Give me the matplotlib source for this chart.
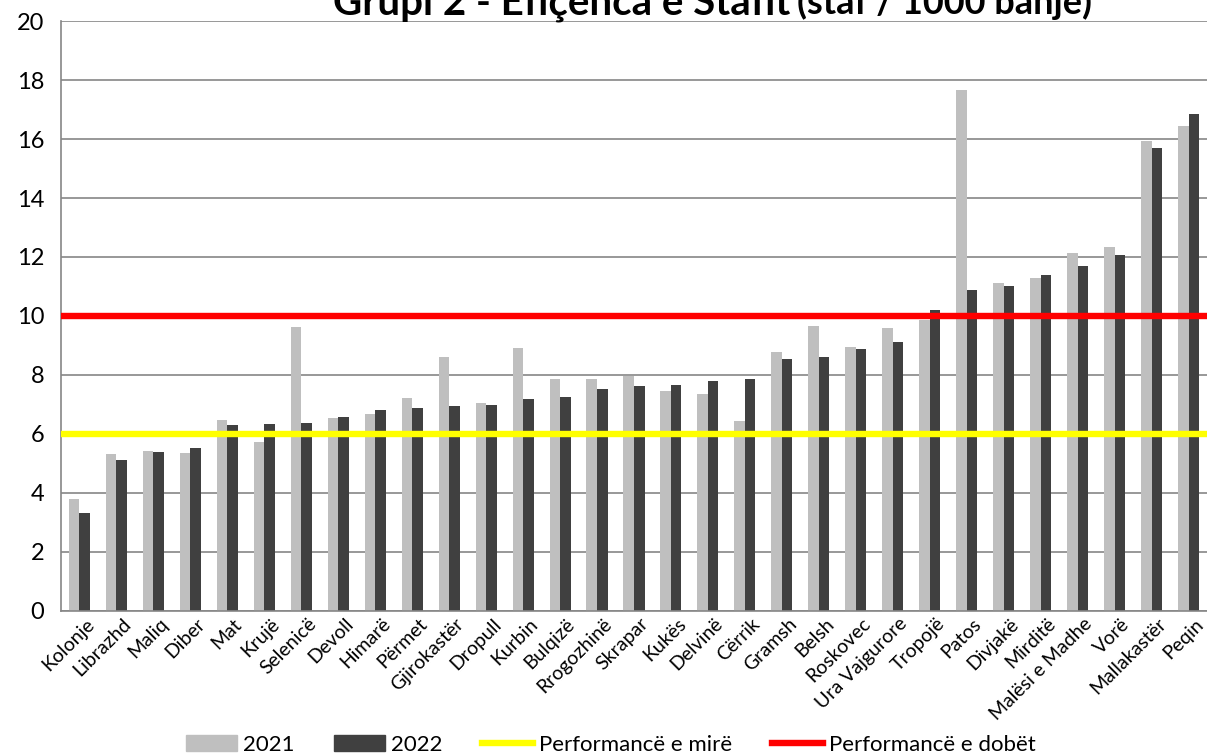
import numpy as np
import matplotlib
matplotlib.use('Agg')
import matplotlib.pyplot as plt
import matplotlib.transforms as mtransforms
from matplotlib.lines import Line2D
from matplotlib.patches import Patch

plt.rcParams['font.family'] = ['Lato', 'DejaVu Sans']

#%% data
bashkite = ['Kolonje', 'Librazhd', 'Maliq', 'Diber', 'Mat', 'Krujë', 'Selenicë',
            'Devoll', 'Himarë', 'Përmet', 'Gjirokastër', 'Dropull', 'Kurbin',
            'Bulqizë', 'Rrogozhinë', 'Skrapar', 'Kukës', 'Delvinë', 'Cërrik',
            'Gramsh', 'Belsh', 'Roskovec', 'Ura Vajgurore', 'Tropojë', 'Patos',
            'Divjakë', 'Mirditë', 'Malësi e Madhe', 'Vorë', 'Mallakastër', 'Peqin']
v2021 = [3.79, 5.31, 5.43, 5.35, 6.46, 5.72, 9.63, 6.54, 6.67, 7.22, 8.60,
         7.04, 8.90, 7.86, 7.86, 7.97, 7.46, 7.35, 6.45, 8.77, 9.65, 8.96,
         9.60, 9.85, 17.67, 11.12, 11.30, 12.12, 12.35, 15.92, 16.45]
v2022 = [3.31, 5.12, 5.40, 5.52, 6.29, 6.34, 6.37, 6.56, 6.80, 6.87, 6.96,
         6.97, 7.20, 7.26, 7.51, 7.62, 7.66, 7.80, 7.85, 8.53, 8.61, 8.88,
         9.11, 10.20, 10.87, 11.03, 11.40, 11.69, 12.06, 15.70, 16.84]
prag_mire = 6
prag_dobet = 10
yticks = np.arange(0, 21, 2)

#%% plot
fig = plt.figure(figsize=(12.07, 7.53), dpi=100)
ax = fig.add_axes([0.0505, 0.1886, 0.9495, 0.7835])

x = np.arange(len(bashkite))
w = 0.285
ax.bar(x - w/2, v2021, w, color='#BFBFBF', zorder=2)
ax.bar(x + w/2, v2022, w, color='#404040', zorder=2)
ax.axhline(prag_mire, color='#FFFF00', lw=4.6, zorder=3)
ax.axhline(prag_dobet, color='#FF0000', lw=4.6, zorder=3)

ax.set_xlim(-0.5, len(bashkite) - 0.5)
ax.set_ylim(0, 20)
ax.set_yticks(yticks)
ax.tick_params(axis='y', length=0, pad=12, labelsize=17)
ax.tick_params(axis='x', length=0, pad=3)
ax.set_xticks(x)
ax.set_xticklabels(bashkite, rotation=45, ha='right', rotation_mode='anchor',
                   fontsize=14)
shift = mtransforms.ScaledTranslation(6/100, 0, fig.dpi_scale_trans)
for lab in ax.get_xticklabels():
    lab.set_transform(lab.get_transform() + shift)
ax.grid(axis='y', color='#868686', lw=1.2, zorder=0)
for s in ['top', 'right']:
    ax.spines[s].set_visible(False)
for s in ['left', 'bottom']:
    ax.spines[s].set_color('#868686')
    ax.spines[s].set_linewidth(1.2)

# title, top half falls outside the figure
fig.text(333/1207, 1 - 14/753, 'Grupi 2 - Efiçenca e Stafit', fontsize=29,
         fontweight='bold', ha='left', va='baseline')
fig.text(797/1207, 1 - 14/753, '(staf / 1000 banje)', fontsize=26,
         fontweight='bold', ha='left', va='baseline')

handles = [Patch(color='#BFBFBF'), Patch(color='#404040'),
           Line2D([], [], color='#FFFF00', lw=4.6),
           Line2D([], [], color='#FF0000', lw=4.6)]
labels = ['2021', '2022', 'Performancë e mirë', 'Performancë e dobët']
fig.legend(handles, labels, loc='center', bbox_to_anchor=(0.506, 1 - 745/753),
           ncol=4, frameon=False, fontsize=16, handlelength=2.3,
           handletextpad=0.25, columnspacing=1.8, borderpad=0)

fig.savefig('out.png', dpi=100)
